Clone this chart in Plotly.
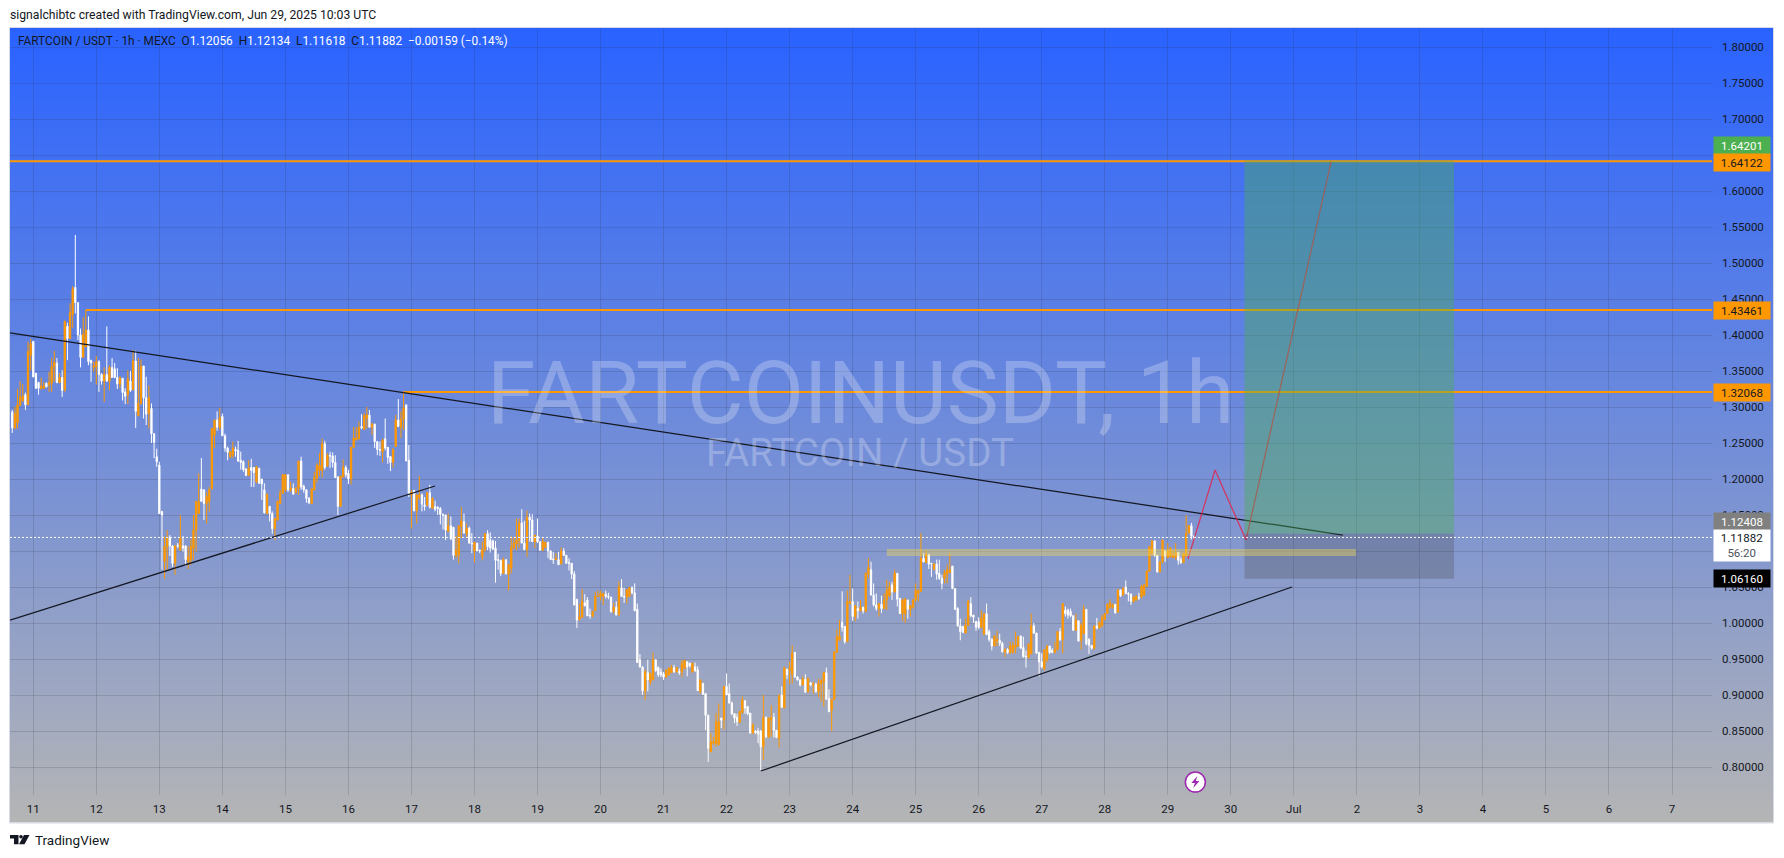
import plotly.graph_objects as go
import pandas as pd

first_candle = "2025-06-10 16:00"
opens = [
1.293,1.271,1.278,1.303,1.309,1.317,1.303,1.372,
1.391,1.347,1.334,1.326,1.326,1.333,1.331,1.333,1.356,1.361,1.334,1.341,1.324,1.412,1.395,1.428,1.466,1.445,1.400,1.369,1.384,1.407,1.365,1.355,
1.356,1.363,1.345,1.336,1.345,1.336,1.355,1.353,1.341,1.332,1.340,1.321,1.317,1.336,1.324,1.364,1.288,1.305,1.357,1.313,1.291,1.298,1.263,1.231,
1.219,1.155,1.086,1.106,1.119,1.107,1.083,1.108,1.101,1.107,1.107,1.085,1.088,1.104,1.129,1.152,1.186,1.185,1.166,1.169,1.187,1.261,1.282,1.272,
1.287,1.260,1.243,1.231,1.233,1.241,1.240,1.226,1.224,1.214,1.205,1.216,1.216,1.196,1.215,1.200,1.185,1.152,1.162,1.152,1.131,1.143,1.166,1.180,
1.185,1.206,1.185,1.187,1.181,1.187,1.225,1.190,1.185,1.173,1.166,1.185,1.201,1.212,1.212,1.249,1.218,1.233,1.232,1.223,1.203,1.162,1.203,1.216,
1.208,1.200,1.244,1.254,1.256,1.273,1.269,1.284,1.289,1.272,1.276,1.252,1.241,1.238,1.256,1.244,1.231,1.223,1.245,1.282,1.272,1.283,1.303,1.226,
1.178,1.184,1.156,1.175,1.178,1.164,1.164,1.181,1.159,1.162,1.161,1.159,1.151,1.150,1.127,1.135,1.133,1.094,1.094,1.134,1.141,1.124,1.132,1.111,
1.100,1.111,1.101,1.092,1.102,1.124,1.115,1.114,1.104,1.088,1.087,1.069,1.088,1.068,1.076,1.105,1.110,1.115,1.139,1.111,1.102,1.147,1.143,1.113,
1.121,1.113,1.101,1.105,1.112,1.100,1.089,1.088,1.088,1.082,1.100,1.094,1.084,1.083,1.068,1.033,1.005,1.008,1.028,1.032,1.011,1.010,1.017,1.037,
1.037,1.037,1.040,1.037,1.036,1.016,1.022,1.011,1.049,1.037,1.036,1.037,1.049,1.042,1.019,0.949,0.939,0.906,0.931,0.918,0.921,0.949,0.938,0.932,
0.929,0.925,0.928,0.931,0.938,0.932,0.933,0.932,0.937,0.946,0.944,0.932,0.939,0.935,0.905,0.916,0.902,0.872,0.821,0.833,0.833,0.831,0.868,0.866,
0.912,0.902,0.889,0.874,0.869,0.862,0.876,0.892,0.884,0.875,0.847,0.850,0.850,0.850,0.828,0.869,0.842,0.865,0.869,0.851,0.840,0.900,0.882,0.936,
0.935,0.929,0.959,0.925,0.921,0.914,0.922,0.905,0.917,0.914,0.915,0.905,0.916,0.919,0.931,0.895,0.879,0.894,0.959,0.976,1.001,0.995,0.974,1.027,
1.030,1.009,1.020,1.017,1.022,1.016,1.068,1.074,1.039,1.025,1.020,1.026,1.020,1.032,1.038,1.053,1.043,1.069,1.034,1.013,1.013,1.032,1.019,1.022,
1.032,1.041,1.044,1.090,1.084,1.095,1.083,1.075,1.082,1.069,1.062,1.062,1.068,1.070,1.079,1.048,1.020,0.996,0.995,0.986,0.997,1.027,1.011,1.002,
1.002,0.994,0.985,1.013,0.988,0.977,0.968,0.975,0.976,0.972,0.960,0.963,0.959,0.960,0.966,0.968,0.982,0.966,0.954,0.952,0.957,0.996,0.986,0.959,
0.946,0.936,0.949,0.968,0.962,0.959,0.963,0.988,0.977,1.018,1.018,1.016,1.010,0.990,1.003,0.976,0.985,1.019,0.977,0.969,0.965,0.996,0.993,0.997,
1.005,1.013,1.022,1.022,1.026,1.015,1.046,1.039,1.050,1.041,1.040,1.030,1.032,1.036,1.036,1.039,1.051,1.072,1.097,1.114,1.094,1.071,1.085,1.100,
1.091,1.092,1.091,1.091,1.098,1.088,1.084,1.093,1.125,1.135,1.12056,
]
highs = [
1.296,1.300,1.325,1.336,1.332,1.320,1.391,1.395,
1.392,1.347,1.335,1.341,1.335,1.334,1.349,1.368,1.378,1.368,1.347,1.351,1.420,1.417,1.444,1.468,1.539,1.445,1.409,1.425,1.435,1.426,1.365,1.363,
1.371,1.365,1.347,1.355,1.412,1.358,1.368,1.361,1.354,1.343,1.340,1.326,1.351,1.350,1.379,1.378,1.368,1.366,1.357,1.342,1.330,1.305,1.263,1.242,
1.224,1.155,1.120,1.129,1.122,1.108,1.108,1.111,1.150,1.121,1.108,1.107,1.116,1.150,1.169,1.208,1.229,1.185,1.182,1.189,1.270,1.282,1.294,1.299,
1.291,1.263,1.245,1.238,1.252,1.245,1.253,1.238,1.226,1.215,1.226,1.228,1.216,1.218,1.215,1.200,1.194,1.179,1.162,1.155,1.145,1.170,1.185,1.206,
1.207,1.206,1.196,1.194,1.189,1.225,1.231,1.192,1.186,1.175,1.187,1.210,1.222,1.236,1.256,1.253,1.236,1.238,1.237,1.233,1.203,1.204,1.227,1.219,
1.213,1.244,1.272,1.272,1.280,1.290,1.292,1.300,1.296,1.278,1.277,1.252,1.252,1.256,1.284,1.244,1.232,1.243,1.289,1.311,1.294,1.321,1.303,1.247,
1.185,1.185,1.178,1.204,1.180,1.175,1.182,1.192,1.175,1.170,1.162,1.161,1.152,1.150,1.152,1.148,1.133,1.121,1.135,1.161,1.152,1.138,1.134,1.125,
1.113,1.111,1.102,1.113,1.125,1.129,1.126,1.116,1.114,1.096,1.088,1.091,1.088,1.081,1.121,1.119,1.145,1.145,1.158,1.142,1.156,1.152,1.151,1.122,
1.145,1.113,1.119,1.113,1.113,1.101,1.099,1.097,1.099,1.105,1.104,1.094,1.090,1.083,1.072,1.033,1.026,1.047,1.040,1.036,1.020,1.017,1.043,1.045,
1.045,1.042,1.045,1.042,1.036,1.028,1.030,1.058,1.061,1.049,1.047,1.050,1.051,1.055,1.027,0.957,0.940,0.935,0.949,0.931,0.959,0.949,0.940,0.937,
0.932,0.936,0.939,0.942,0.942,0.938,0.937,0.949,0.949,0.947,0.945,0.945,0.945,0.940,0.921,0.917,0.902,0.872,0.847,0.842,0.875,0.888,0.868,0.912,
0.930,0.916,0.891,0.874,0.874,0.877,0.898,0.893,0.884,0.875,0.861,0.851,0.854,0.851,0.900,0.870,0.868,0.886,0.875,0.851,0.901,0.912,0.939,0.936,
0.946,0.969,0.960,0.926,0.922,0.926,0.929,0.924,0.918,0.918,0.917,0.922,0.922,0.932,0.938,0.908,0.894,0.960,0.991,1.004,1.044,0.995,1.045,1.067,
1.048,1.025,1.030,1.032,1.022,1.070,1.090,1.085,1.055,1.041,1.027,1.038,1.041,1.060,1.057,1.057,1.074,1.069,1.035,1.034,1.035,1.032,1.025,1.033,
1.055,1.047,1.125,1.097,1.101,1.096,1.083,1.083,1.088,1.088,1.067,1.074,1.081,1.097,1.079,1.048,1.022,1.006,0.996,1.006,1.032,1.036,1.011,1.003,
1.008,1.018,1.013,1.027,0.991,0.979,0.983,0.989,0.985,0.974,0.965,0.965,0.974,0.974,0.988,0.982,0.982,0.981,0.962,0.972,1.013,1.000,0.986,0.960,
0.958,0.963,0.969,0.968,0.965,0.974,0.989,0.993,1.027,1.023,1.020,1.020,1.011,1.013,1.004,1.000,1.025,1.019,0.979,0.969,0.997,1.007,1.002,1.011,
1.013,1.027,1.033,1.027,1.026,1.047,1.046,1.050,1.059,1.043,1.041,1.037,1.039,1.042,1.053,1.054,1.073,1.107,1.115,1.115,1.094,1.086,1.116,1.101,
1.111,1.105,1.101,1.111,1.099,1.092,1.098,1.150,1.136,1.139,1.12134,
]
lows = [
1.264,1.269,1.270,1.301,1.307,1.296,1.303,1.351,
1.341,1.325,1.317,1.324,1.325,1.327,1.321,1.321,1.335,1.333,1.333,1.314,1.321,1.365,1.395,1.410,1.430,1.393,1.355,1.369,1.383,1.358,1.335,1.349,
1.331,1.321,1.331,1.307,1.335,1.323,1.341,1.340,1.325,1.326,1.309,1.304,1.304,1.321,1.324,1.271,1.287,1.303,1.284,1.275,1.270,1.250,1.229,1.217,
1.152,1.074,1.061,1.074,1.093,1.078,1.067,1.104,1.101,1.099,1.079,1.075,1.081,1.088,1.099,1.152,1.169,1.143,1.138,1.155,1.185,1.243,1.267,1.268,
1.260,1.238,1.226,1.229,1.229,1.231,1.224,1.213,1.210,1.204,1.205,1.189,1.189,1.194,1.194,1.171,1.152,1.151,1.141,1.124,1.115,1.142,1.165,1.180,
1.182,1.182,1.182,1.178,1.181,1.178,1.185,1.181,1.167,1.165,1.165,1.184,1.195,1.204,1.202,1.213,1.217,1.215,1.216,1.202,1.150,1.161,1.202,1.202,
1.193,1.192,1.243,1.254,1.255,1.269,1.268,1.270,1.272,1.261,1.243,1.233,1.232,1.223,1.240,1.221,1.211,1.216,1.245,1.272,1.257,1.268,1.225,1.175,
1.131,1.155,1.138,1.171,1.155,1.156,1.162,1.159,1.159,1.155,1.150,1.137,1.130,1.115,1.127,1.115,1.088,1.090,1.083,1.118,1.124,1.118,1.110,1.097,
1.084,1.100,1.097,1.087,1.099,1.101,1.098,1.101,1.056,1.074,1.065,1.068,1.068,1.045,1.069,1.102,1.101,1.104,1.111,1.101,1.092,1.113,1.113,1.104,
1.111,1.101,1.100,1.105,1.090,1.088,1.082,1.088,1.081,1.082,1.093,1.082,1.073,1.061,1.025,0.993,1.003,1.008,1.023,1.010,1.006,1.008,1.017,1.036,
1.031,1.025,1.034,1.033,1.014,1.013,1.011,1.011,1.037,1.028,1.027,1.036,1.040,1.017,0.945,0.938,0.900,0.893,0.905,0.914,0.921,0.932,0.925,0.925,
0.921,0.924,0.927,0.931,0.931,0.931,0.928,0.925,0.936,0.926,0.938,0.931,0.932,0.906,0.902,0.900,0.851,0.807,0.821,0.831,0.828,0.831,0.854,0.852,
0.900,0.888,0.872,0.861,0.857,0.862,0.874,0.874,0.872,0.847,0.847,0.846,0.833,0.795,0.810,0.840,0.840,0.842,0.841,0.840,0.827,0.882,0.882,0.922,
0.915,0.916,0.924,0.920,0.912,0.914,0.903,0.903,0.912,0.902,0.903,0.897,0.891,0.884,0.894,0.876,0.850,0.893,0.959,0.976,0.988,0.971,0.974,1.027,
1.003,1.002,1.006,1.016,1.013,1.015,1.062,1.038,1.023,1.017,1.009,1.014,1.019,1.018,1.036,1.032,1.043,1.023,1.013,1.003,1.000,1.006,1.009,1.020,
1.029,1.030,1.044,1.084,1.083,1.075,1.064,1.073,1.060,1.060,1.047,1.055,1.055,1.069,1.047,1.018,0.995,0.976,0.986,0.986,0.997,1.008,1.000,0.989,
0.991,0.993,0.983,0.983,0.974,0.962,0.968,0.968,0.968,0.959,0.953,0.957,0.957,0.957,0.958,0.967,0.965,0.952,0.938,0.951,0.957,0.985,0.957,0.926,
0.937,0.934,0.946,0.957,0.958,0.958,0.962,0.975,0.958,1.009,1.006,1.008,0.989,0.989,0.974,0.963,0.985,0.969,0.957,0.963,0.963,0.991,0.993,0.994,
1.004,1.013,1.020,1.020,1.013,1.015,1.036,1.038,1.040,1.030,1.025,1.028,1.031,1.032,1.034,1.038,1.050,1.071,1.094,1.092,1.070,1.070,1.083,1.085,
1.090,1.091,1.090,1.088,1.081,1.082,1.083,1.092,1.125,1.116,1.11618,
]
closes = [
1.271,1.291,1.303,1.314,1.315,1.303,1.377,1.388,
1.342,1.326,1.326,1.329,1.329,1.328,1.334,1.356,1.362,1.334,1.341,1.323,1.419,1.395,1.431,1.464,1.445,1.400,1.369,1.401,1.407,1.363,1.361,1.357,
1.363,1.345,1.336,1.345,1.336,1.355,1.341,1.341,1.332,1.340,1.320,1.315,1.339,1.323,1.364,1.294,1.305,1.356,1.313,1.290,1.313,1.263,1.251,1.224,
1.152,1.150,1.106,1.119,1.107,1.083,1.107,1.107,1.118,1.104,1.088,1.092,1.106,1.129,1.169,1.169,1.169,1.166,1.176,1.185,1.270,1.282,1.272,1.285,
1.260,1.243,1.237,1.238,1.243,1.239,1.225,1.223,1.213,1.205,1.215,1.212,1.209,1.217,1.194,1.193,1.153,1.179,1.152,1.131,1.145,1.169,1.180,1.206,
1.206,1.185,1.187,1.179,1.187,1.225,1.189,1.185,1.173,1.167,1.186,1.202,1.219,1.219,1.249,1.216,1.233,1.232,1.223,1.202,1.162,1.204,1.216,1.206,
1.200,1.244,1.257,1.257,1.272,1.271,1.288,1.289,1.272,1.276,1.252,1.241,1.240,1.254,1.243,1.230,1.223,1.241,1.282,1.273,1.283,1.299,1.225,1.180,
1.182,1.156,1.178,1.178,1.165,1.162,1.181,1.161,1.173,1.158,1.159,1.151,1.150,1.129,1.135,1.117,1.094,1.101,1.135,1.142,1.125,1.132,1.111,1.110,
1.112,1.100,1.100,1.102,1.124,1.106,1.104,1.103,1.087,1.087,1.069,1.088,1.068,1.081,1.105,1.111,1.115,1.139,1.111,1.102,1.147,1.143,1.113,1.122,
1.113,1.101,1.113,1.112,1.100,1.088,1.088,1.090,1.081,1.100,1.094,1.083,1.083,1.068,1.025,1.004,1.009,1.030,1.024,1.010,1.010,1.016,1.037,1.037,
1.041,1.041,1.037,1.036,1.016,1.022,1.011,1.050,1.037,1.036,1.046,1.049,1.042,1.017,0.945,0.939,0.906,0.932,0.921,0.930,0.949,0.934,0.928,0.928,
0.925,0.934,0.937,0.938,0.932,0.938,0.931,0.944,0.948,0.939,0.941,0.944,0.934,0.906,0.921,0.901,0.872,0.826,0.835,0.835,0.863,0.863,0.865,0.912,
0.900,0.889,0.874,0.868,0.863,0.877,0.893,0.882,0.874,0.847,0.858,0.848,0.846,0.828,0.869,0.842,0.868,0.869,0.851,0.841,0.899,0.883,0.938,0.928,
0.937,0.958,0.925,0.921,0.914,0.922,0.904,0.923,0.914,0.915,0.905,0.916,0.920,0.931,0.894,0.877,0.894,0.960,0.981,0.982,0.994,0.974,1.030,1.030,
1.009,1.024,1.017,1.022,1.017,1.069,1.077,1.039,1.025,1.020,1.027,1.020,1.032,1.045,1.050,1.043,1.069,1.033,1.013,1.032,1.033,1.019,1.024,1.032,
1.045,1.045,1.090,1.085,1.095,1.082,1.082,1.082,1.068,1.062,1.055,1.070,1.074,1.074,1.048,1.019,0.996,0.988,0.987,0.997,1.030,1.010,1.008,0.994,
0.994,1.007,1.013,0.984,0.977,0.968,0.982,0.977,0.972,0.960,0.963,0.959,0.968,0.969,0.969,0.981,0.965,0.953,0.953,0.971,0.996,0.986,0.958,0.946,
0.939,0.963,0.968,0.959,0.959,0.963,0.988,0.977,1.027,1.013,1.011,1.010,0.990,1.004,0.975,0.997,1.019,0.971,0.969,0.965,0.996,0.993,1.001,1.008,
1.013,1.026,1.028,1.025,1.014,1.046,1.038,1.048,1.041,1.040,1.030,1.036,1.037,1.035,1.051,1.053,1.072,1.106,1.114,1.094,1.071,1.085,1.115,1.093,
1.100,1.104,1.094,1.098,1.087,1.084,1.096,1.125,1.135,1.1207,1.11882,
]
assert len(opens) == len(highs) == len(lows) == len(closes) == 451

price_ticks = [0.80,0.85,0.90,0.95,1.00,1.05,1.10,1.15,1.20,1.25,1.30,1.35,1.40,1.45,1.50,1.55,1.60,1.65,1.70,1.75,1.80]
date_ticks = ["2025-06-%02d" % d for d in range(11,31)] + ["2025-07-%02d" % d for d in range(1,8)]
date_labels = [str(d) for d in range(11,31)] + ["Jul"] + [str(d) for d in range(2,8)]

x_range = ["2025-06-10 15:08", "2025-07-07 15:14"]
y_range = [0.76111, 1.82639]

level_values = [1.64122, 1.43461, 1.32068]
level_starts = ["2025-06-10 15:08", "2025-06-11 20:00", "2025-06-16 21:00"]
last_price = 1.11882

trend_down_x = ["2025-06-10 15:08", "2025-07-01 18:42"]
trend_down_y = [1.4028, 1.1222]
trend_up_left_x = ["2025-06-10 15:08", "2025-06-17 09:00"]
trend_up_left_y = [1.004, 1.1903]
trend_up_right_x = ["2025-06-22 13:00", "2025-06-30 23:18"]
trend_up_right_y = [0.7944, 1.05]
path_x = ["2025-06-29 07:42", "2025-06-29 18:00", "2025-06-30 05:48", "2025-07-01 14:12"]
path_y = [1.0889, 1.2125, 1.1153, 1.6408]

band_x = ["2025-06-24 13:00", "2025-07-01 23:42"]
band_y = [1.0931, 1.1028]
position_x = ["2025-06-30 05:12", "2025-07-03 13:00"]
position_target = 1.64201
position_entry = 1.12408
position_stop = 1.06160

ORANGE = "#FF9800"
INK = "#131722"
FONT = "Roboto"
AX_SIZE = 11.5

L, R, T, B = 10, 1712, 28, 795
def fx(px): return (px - L) / (R - L)
def fy(py): return (B - py) / (B - T)

times = pd.date_range(first_candle, periods=len(opens), freq="h")

fig = go.Figure()
fig.add_trace(go.Candlestick(
    x=times, open=opens, high=highs, low=lows, close=closes,
    whiskerwidth=0, showlegend=False, hoverinfo="skip",
    increasing=dict(line=dict(color=ORANGE, width=1), fillcolor=ORANGE),
    decreasing=dict(line=dict(color="#FFFFFF", width=1), fillcolor="#FFFFFF"),
))
for v, s in zip(level_values, level_starts):
    fig.add_trace(go.Scatter(x=[s, x_range[1]], y=[v, v], mode="lines",
                             line=dict(color=ORANGE, width=2), showlegend=False, hoverinfo="skip"))
for xs, ys in [(trend_down_x, trend_down_y), (trend_up_left_x, trend_up_left_y), (trend_up_right_x, trend_up_right_y)]:
    fig.add_trace(go.Scatter(x=xs, y=ys, mode="lines", line=dict(color="#131722", width=1.25),
                             showlegend=False, hoverinfo="skip"))
fig.add_trace(go.Scatter(x=path_x, y=path_y, mode="lines", line=dict(color="rgba(233,30,70,0.8)", width=1.25),
                         showlegend=False, hoverinfo="skip"))

shapes = []
# panel gradient
top = (41, 98, 255); bot = (181, 181, 181)
P_T, P_B, P_L, P_R = 28, 822.5, 10, 1773
n = 397
for i in range(n):
    y0 = P_T + (P_B - P_T) * i / n
    y1 = min(P_B, P_T + (P_B - P_T) * (i + 1.5) / n)
    f = (i + 0.5) / n
    c = tuple(round(top[k] + (bot[k] - top[k]) * f) for k in range(3))
    shapes.append(dict(type="rect", xref="paper", yref="paper", layer="below",
                       x0=fx(P_L), x1=fx(P_R), y0=fy(y1), y1=fy(y0),
                       fillcolor="rgb(%d,%d,%d)" % c, line=dict(width=0)))
shapes.append(dict(type="rect", xref="paper", yref="paper", layer="below",
                   x0=fx(9.5), x1=fx(1773.5), y0=fy(823), y1=fy(27.5),
                   fillcolor="rgba(0,0,0,0)", line=dict(color="#D5DAE6", width=1)))
# drawings above the candles
shapes.append(dict(type="rect", xref="x", yref="y", layer="above", x0=position_x[0], x1=position_x[1],
                   y0=position_entry, y1=position_target, fillcolor="rgba(76,175,80,0.4)", line=dict(width=0)))
shapes.append(dict(type="rect", xref="x", yref="y", layer="above", x0=position_x[0], x1=position_x[1],
                   y0=position_stop, y1=position_entry, fillcolor="rgba(70,70,70,0.27)", line=dict(width=0)))
shapes.append(dict(type="rect", xref="x", yref="y", layer="above", x0=band_x[0], x1=band_x[1],
                   y0=band_y[0], y1=band_y[1], fillcolor="rgba(240,215,90,0.42)", line=dict(width=0)))
shapes.append(dict(type="line", xref="x", yref="y", layer="above", x0=x_range[0], x1=x_range[1],
                   y0=last_price, y1=last_price, line=dict(color="#FFFFFF", width=1, dash="2px,2px")))
# lightning badge
bx, by = "2025-06-29 10:30", 0.779
shapes.append(dict(type="circle", xref="x", yref="y", xsizemode="pixel", ysizemode="pixel", layer="above",
                   xanchor=bx, yanchor=by, x0=-10, x1=10, y0=-10, y1=10,
                   fillcolor="#FFFFFF", line=dict(color="#9C27B0", width=1.5)))
shapes.append(dict(type="path", xref="x", yref="y", xsizemode="pixel", ysizemode="pixel", layer="above",
                   xanchor=bx, yanchor=by, path="M 2 6 L -4 -1 L -0.5 -1 L -2 -6 L 4 1 L 0.5 1 Z",
                   fillcolor="#9C27B0", line=dict(width=0)))
# footer logo
def poly(pts):
    return "M " + " L ".join("%.5f %.5f" % (fx(a), fy(b)) for a, b in pts) + " Z"
shapes.append(dict(type="path", xref="paper", yref="paper", layer="above",
                   path=poly([(10,835),(18.5,835),(18.5,844.3),(14,844.3),(14,838.6),(10,838.6)]),
                   fillcolor=INK, line=dict(width=0)))
shapes.append(dict(type="circle", xref="paper", yref="paper", layer="above",
                   x0=fx(19.2), x1=fx(22.8), y0=fy(838.6), y1=fy(835), fillcolor=INK, line=dict(width=0)))
shapes.append(dict(type="path", xref="paper", yref="paper", layer="above",
                   path=poly([(24,835),(29.5,835),(24.5,844.3),(19,844.3)]),
                   fillcolor=INK, line=dict(width=0)))

def tag(text, value, color, txt, yshift=0, height=17):
    return dict(xref="paper", yref="y", x=fx(1741.5), y=value, text=text, showarrow=False,
                xanchor="center", yanchor="middle", width=56, height=height, bgcolor=color,
                font=dict(family=FONT, size=AX_SIZE, color=txt), yshift=yshift, align="center", borderpad=0)

W = "#FFFFFF"
legend_text = (
    "FARTCOIN / USDT · 1h · MEXC&nbsp;&nbsp;"
    f"O<span style='color:{W}'>1.12056</span>&nbsp;&nbsp;H<span style='color:{W}'>1.12134</span>&nbsp;&nbsp;"
    f"L<span style='color:{W}'>1.11618</span>&nbsp;&nbsp;C<span style='color:{W}'>1.11882</span>&nbsp;&nbsp;"
    f"<span style='color:{W}'>−0.00159 (−0.14%)</span>"
)
annotations = [
    dict(xref="paper", yref="paper", x=fx(8), y=fy(15), xanchor="left", yanchor="middle", showarrow=False,
         text="signalchibtc created with TradingView.com, Jun 29, 2025 10:03 UTC",
         font=dict(family=FONT, size=12.2, color=INK)),
    dict(xref="paper", yref="paper", x=fx(16), y=fy(41), xanchor="left", yanchor="middle", showarrow=False,
         text=legend_text, font=dict(family=FONT, size=11.85, color=INK)),
    dict(xref="paper", yref="paper", x=fx(860), y=fy(393), xanchor="center", yanchor="middle", showarrow=False,
         text="FARTCOINUSDT, 1h", font=dict(family=FONT, size=87.5, color="rgba(255,255,255,0.25)")),
    dict(xref="paper", yref="paper", x=fx(860), y=fy(453), xanchor="center", yanchor="middle", showarrow=False,
         text="FARTCOIN / USDT", font=dict(family=FONT, size=38.5, color="rgba(255,255,255,0.25)")),
    dict(xref="paper", yref="paper", x=fx(33), y=fy(840), xanchor="left", yanchor="middle", showarrow=False,
         text="TradingView", font=dict(family=FONT, size=13.5, color=INK)),
    tag("1.64201", position_target, "#4CAF50", W, yshift=15),
    tag("1.64122", level_values[0], ORANGE, INK, yshift=-1),
    tag("1.43461", level_values[1], ORANGE, INK),
    tag("1.32068", level_values[2], ORANGE, INK),
    tag("1.12408", position_entry, "#808080", W, yshift=12),
    tag("1.11882<br><span style='color:#50535E'>56:20</span>", last_price, W, INK, yshift=-8, height=31),
    tag("1.06160", position_stop, "#000000", W),
]

GRID = "rgba(42,46,57,0.17)"
fig.update_layout(
    width=1784, height=858, autosize=False,
    margin=dict(l=L, r=1784 - R, t=T, b=858 - B, pad=0),
    paper_bgcolor="#FFFFFF", plot_bgcolor="rgba(0,0,0,0)",
    showlegend=False, shapes=shapes, annotations=annotations,
    xaxis=dict(type="date", range=x_range, tickmode="array", tickvals=date_ticks, ticktext=date_labels,
               showgrid=True, gridcolor=GRID, gridwidth=1, zeroline=False, showline=False, ticks="",
               rangeslider=dict(visible=False), tickfont=dict(family=FONT, size=AX_SIZE, color=INK),
               ticklabelstandoff=5),
    yaxis=dict(side="right", range=y_range, tickmode="array", tickvals=price_ticks, tickformat=".5f",
               showgrid=True, gridcolor=GRID, gridwidth=1, zeroline=False, showline=False, ticks="",
               tickfont=dict(family=FONT, size=AX_SIZE, color=INK), ticklabelstandoff=9),
)
fig.write_html("out.html", config=dict(displayModeBar=False),
               post_script="document.body.style.margin='0';document.body.style.overflow='hidden';")
